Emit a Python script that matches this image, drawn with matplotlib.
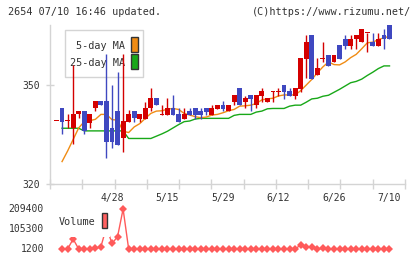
import numpy as np
import matplotlib
matplotlib.use("Agg")
import matplotlib.pyplot as plt
from matplotlib.patches import Rectangle
import matplotlib.transforms as mtransforms

nan = np.nan
title_left = "2654 07/10 16:46 updated."
title_right = "(C)https://www.rizumu.net/"
date_labels = ["4/28", "5/15", "5/29", "6/12", "6/26", "7/10"]
date_index = [10, 20, 30, 40, 50, 60]
price_ticks = [320, 350]
vol_tick_labels = ["209400", "105300", "1200"]
vol_tick_values = [209400, 105300, 1200]

opens = [339.1, 342.9, 339.0, 336.9, 341.1, 342.1, 338.6, 342.9, 345.2, 345.2,
         337.1, 342.1, 333.8, 338.9, 342.1, 339.7, 339.7, 342.9, 346.2, 341.0,
         340.9, 342.9, 341.1, 339.7, 342.1, 342.9, 342.1, 342.9, 340.9, 342.7,
         343.9, 342.0, 345.0, 349.0, 345.0, 347.0, 343.8, 346.8, 345.0, 348.0,
         347.9, 350.0, 348.2, 346.8, 348.8, 357.9, 365.1, 352.9, 357.9, 359.1,
         357.1, 362.1, 364.1, 361.9, 364.1, 362.9, 365.7, 362.9, 361.9, 365.1, 368.1]
highs = [339.1, 342.9, 341.1, 356.1, 342.1, 342.1, 341.1, 345.2, 345.2, 359.3,
         350.0, 354.0, 359.3, 342.5, 342.1, 341.1, 345.0, 349.2, 346.2, 343.9,
         346.2, 347.0, 342.9, 342.9, 342.9, 342.9, 342.9, 342.9, 343.9, 343.9,
         345.2, 343.9, 347.0, 349.0, 346.8, 347.0, 347.0, 349.2, 346.2, 348.2,
         349.2, 350.0, 349.0, 349.0, 358.3, 365.1, 365.1, 358.3, 362.9, 359.1,
         359.1, 362.1, 365.1, 365.1, 365.1, 367.1, 365.9, 365.9, 365.9, 367.1, 368.1]
lows = [339.1, 335.1, 336.9, 332.0, 339.9, 335.1, 337.1, 342.0, 343.8, 327.8,
        330.8, 331.9, 329.8, 338.9, 338.9, 338.9, 339.7, 342.0, 344.0, 341.0,
        340.9, 340.9, 338.9, 339.7, 340.9, 339.7, 339.7, 340.9, 340.9, 342.7,
        342.1, 342.0, 343.8, 343.8, 342.9, 342.1, 342.9, 345.0, 345.0, 345.0,
        346.8, 345.8, 346.8, 345.8, 348.0, 352.0, 351.8, 352.9, 357.1, 355.9,
        357.1, 357.9, 360.9, 360.9, 360.9, 362.9, 359.9, 361.9, 361.9, 360.9, 364.0]
closes = [339.1, 338.9, 339.1, 341.1, 342.1, 336.1, 341.1, 345.2, 343.8, 332.8,
          332.8, 331.9, 339.1, 341.1, 339.9, 341.1, 342.9, 346.2, 344.0, 341.1,
          342.9, 340.9, 338.9, 341.1, 340.9, 340.9, 340.9, 341.7, 342.9, 343.9,
          342.7, 343.9, 347.0, 343.8, 346.0, 345.8, 347.0, 348.2, 346.2, 348.2,
          348.2, 348.0, 346.8, 349.0, 358.3, 362.9, 351.8, 355.1, 358.1, 355.9,
          359.1, 357.9, 361.9, 364.1, 365.1, 367.1, 365.9, 361.9, 364.1, 364.0, 364.0]
ma5 = [nan, 326.8, 330.0, 333.5, 337.0, 338.9, 339.2, 339.6, 341.1, 341.1,
       339.5, 339.4, 336.0, 335.6, 337.3, 338.3, 339.9, 341.4, 342.1, 342.2,
       342.7, 342.9, 342.6, 341.4, 340.9, 340.4, 340.1, 340.3, 340.9, 341.1,
       341.6, 342.2, 342.6, 343.6, 343.7, 343.9, 344.4, 345.5, 345.8, 346.0,
       346.7, 347.0, 347.0, 347.0, 348.3, 350.0, 351.7, 353.7, 355.5, 357.0,
       356.2, 356.1, 357.0, 358.3, 359.3, 361.0, 362.8, 363.0, 363.8, 364.3, 364.8]
ma25 = [nan, 336.9, 336.9, 336.9, 336.9, 336.1, 336.1, 336.1, 336.1, 336.1,
        336.1, 336.1, 336.1, 333.8, 333.8, 333.8, 333.8, 333.8, 334.5, 335.2,
        336.0, 337.0, 338.0, 338.9, 339.1, 339.7, 339.9, 339.9, 339.9, 339.9,
        339.9, 339.9, 340.8, 341.1, 341.1, 341.1, 341.8, 342.1, 342.8, 342.9,
        342.9, 342.9, 343.6, 343.9, 343.9, 344.8, 345.8, 346.0, 346.6, 346.9,
        347.8, 348.7, 349.7, 350.7, 351.1, 351.8, 352.9, 353.9, 355.0, 355.8, 355.8]
volume = [nan, 1200, 1200, 53000, 1200, 1200, 1200, 4000, 13000, 115000,
          30000, 65000, 209400, 1200, 1200, 1500, 1200, 2500, 2500, 1200,
          1500, 1200, 1200, 2000, 1200, 1200, 1500, 1200, 2000, 1200,
          1200, 1500, 1200, 1200, 1200, 1800, 1200, 1200, 2000, 1200,
          2000, 1200, 1200, 1500, 22000, 13000, 12000, 1200, 4000, 1200,
          1200, 2500, 2500, 1200, 1500, 2500, 1200, 1200, 1500, 1200, 2500]

RED = "#d40000"
BLUE = "#3f48c0"
ORANGE = "#f08c14"
GREEN = "#18a818"
AXC = "#d4d4d4"
TXT = "#333333"
VOLC = "#ff5a5a"
MONO = "DejaVu Sans Mono"

W, H = 420, 259
fig = plt.figure(figsize=(W / 100, H / 100), dpi=100)


def box(x0, y0, x1, y1):
    return [x0 / W, 1 - y1 / H, (x1 - x0) / W, (y1 - y0) / H]


def fx(px):
    return px / W


def fy(py):
    return 1 - py / H


n = len(closes)
xs = np.arange(n)
x_first_px, step_px = 56.5, 5.55
xlim = ((50 - x_first_px) / step_px, (405 - x_first_px) / step_px)

ax = fig.add_axes(box(50, 25, 405, 184))
ax.set_xlim(*xlim)
ax.set_ylim(320, 368.2)
for s in ["top", "right"]:
    ax.spines[s].set_visible(False)
for s in ["left", "bottom"]:
    ax.spines[s].set_color(AXC)
    ax.spines[s].set_linewidth(1)
ax.set_xticks(np.linspace(xlim[0], xlim[1], 12))
ax.set_xticklabels([])
ax.tick_params(axis="x", direction="inout", length=6.5, color=AXC, width=1)
ax.set_yticks(price_ticks)
ax.set_yticklabels([str(v) for v in price_ticks], family=MONO, fontsize=7, color=TXT)
ax.tick_params(axis="y", direction="inout", length=5.8, color=AXC, width=1, pad=4)

trans = mtransforms.blended_transform_factory(ax.transData, ax.transAxes)
for lab, idx in zip(date_labels, date_index):
    ax.text(idx, -0.088, lab, transform=trans, ha="center", va="center",
            family=MONO, fontsize=7, color=TXT, clip_on=False)

# legend box (behind candles)
ax.add_patch(Rectangle((fx(65), fy(77)), fx(143) - fx(65), fy(30) - fy(77),
                       transform=fig.transFigure, facecolor="white",
                       edgecolor=AXC, lw=1, zorder=1, clip_on=False))
ax.text(fx(125), fy(46), "5-day MA", transform=fig.transFigure, ha="right",
        va="center", family=MONO, fontsize=7.3, color=TXT, zorder=1.5)
ax.text(fx(125), fy(63), "25-day MA", transform=fig.transFigure, ha="right",
        va="center", family=MONO, fontsize=7.3, color=TXT, zorder=1.5)
for (y0, y1), c in [((37, 52), ORANGE), ((54, 69), GREEN)]:
    ax.add_patch(Rectangle((fx(131), fy(y1)), fx(138) - fx(131), fy(y0) - fy(y1),
                           transform=fig.transFigure, facecolor=c,
                           edgecolor="#333333", lw=1, zorder=1.5, clip_on=False))

# moving averages
ax.plot(xs, ma25, color=GREEN, lw=1, zorder=2)
ax.plot(xs, ma5, color=ORANGE, lw=1, zorder=2)

# candles
bw = 0.88
for i in range(n):
    o, h, l, c = opens[i], highs[i], lows[i], closes[i]
    col = RED if c >= o else BLUE
    if h > l:
        ax.vlines(i, l, h, color=col, lw=1, zorder=3)
    bottom = min(o, c)
    height = max(abs(c - o), 0.3)
    ax.add_patch(Rectangle((i - bw / 2, bottom), bw, height, facecolor=col,
                           edgecolor="none", zorder=4))

# volume panel
vax = fig.add_axes(box(50, 209, 405, 249))
vax.set_xlim(*xlim)
vax.set_ylim(1200, 209400)
vax.axis("off")
vax.plot(xs, volume, color=VOLC, lw=1, marker="D", markersize=3.6,
         markeredgewidth=0, clip_on=False, zorder=2)
for lab, v in zip(vol_tick_labels, vol_tick_values):
    py = 249 - (v - 1200) / (209400 - 1200) * 40
    fig.text(fx(44), fy(py), lab, ha="right", va="center", family=MONO,
             fontsize=7, color=TXT)

# volume legend (white background hides the line)
fig.patches.append(Rectangle((fx(55), fy(237)), fx(110) - fx(55), fy(208) - fy(237),
                             transform=fig.transFigure, facecolor="white",
                             edgecolor="none", zorder=5))
fig.text(fx(59), fy(222), "Volume", ha="left", va="center", family=MONO,
         fontsize=7.3, color=TXT, zorder=6)
fig.patches.append(Rectangle((fx(101.7), fy(228)), fx(107.3) - fx(101.7), fy(213) - fy(228),
                             transform=fig.transFigure, facecolor="#ff6060",
                             edgecolor="#333333", lw=1, zorder=6))

fig.text(fx(8), fy(12), title_left, ha="left", va="center", family=MONO,
         fontsize=7.3, color=TXT)
fig.text(fx(411), fy(12), title_right, ha="right", va="center", family=MONO,
         fontsize=7.3, color=TXT)

fig.savefig("out.png", dpi=100)
